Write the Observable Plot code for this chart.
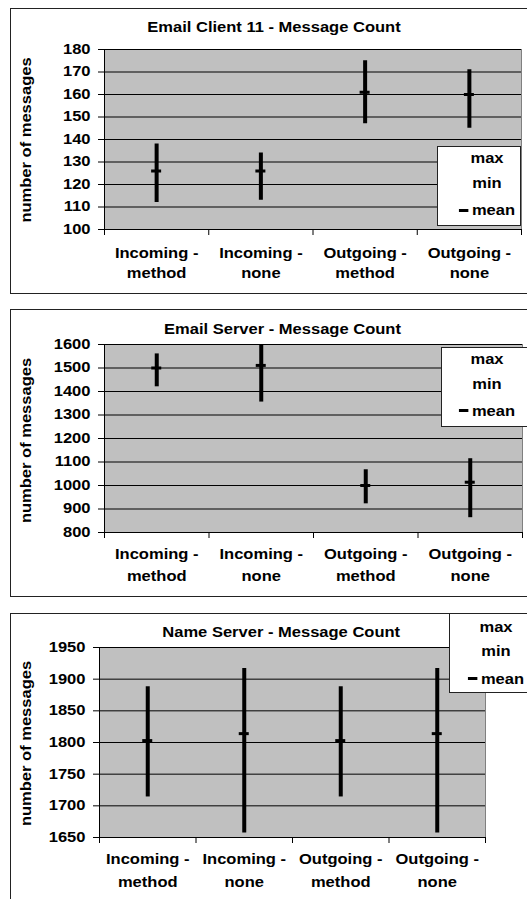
<!DOCTYPE html>
<html><head><meta charset="utf-8">
<script src="https://cdn.jsdelivr.net/npm/d3@7"></script>
<script src="https://cdn.jsdelivr.net/npm/@observablehq/plot@0.6"></script>
<style>
html,body{margin:0;padding:0;background:#fff;}
body{width:527px;height:899px;position:relative;overflow:hidden;font-family:"Liberation Sans",Arial,sans-serif;}
.panel{position:absolute;left:0;width:527px;}
.panel svg{position:absolute;left:0;top:0;}
.frame{position:absolute;left:10px;width:600px;border:1.5px solid #222;box-sizing:border-box;pointer-events:none;}
.legend{position:absolute;background:#fff;border:1px solid #222;box-sizing:border-box;}
.lg{position:absolute;font-weight:bold;font-size:14px;line-height:14px;white-space:nowrap;color:#000;transform:translate(-50%,-50%) scaleX(1.18);}
.dash{display:inline-block;width:8px;height:3px;background:#000;vertical-align:middle;margin-right:3px;position:relative;top:-1px;}
</style></head><body>
<script>
// ---- data ----
const categories = ["Incoming - method", "Incoming - none", "Outgoing - method", "Outgoing - none"];

const clientTitle = "Email Client 11 - Message Count";
const clientMax  = [138, 134, 175, 171];
const clientMin  = [112, 113, 147, 145];
const clientMean = [126, 126, 161, 160];
const clientTicks = [100, 110, 120, 130, 140, 150, 160, 170, 180];

const serverTitle = "Email Server - Message Count";
const serverMax  = [1560, 1600, 1067, 1114];
const serverMin  = [1420, 1355, 922, 863];
const serverMean = [1500, 1511, 1000, 1014];
const serverTicks = [800, 900, 1000, 1100, 1200, 1300, 1400, 1500, 1600];

const nameTitle = "Name Server - Message Count";
const nameMax  = [1888, 1917, 1888, 1917];
const nameMin  = [1714, 1657, 1714, 1657];
const nameMean = [1803, 1814, 1803, 1814];
const nameTicks = [1650, 1700, 1750, 1800, 1850, 1900, 1950];

const yLabel = "number of messages";
const legendLabels = ["max", "min", "mean"];

const K = 1.18; // horizontal text stretch

const panels = [
  {title: clientTitle, max: clientMax, min: clientMin, mean: clientMean, ticks: clientTicks,
   top: 0, h: 300, ml: 104, mr: 6, mt: 49, mb: 71, l1dy: 28, l2dy: 48, tdx: -39, tdy: -27.3, ydx: -77.5, ydy: 0.5,
   frame: {top: 8, h: 286}, legend: {left: 437, top: 146, w: 84, h: 80, cx: 486.5, rows: [159, 184, 211]}},
  {title: serverTitle, max: serverMax, min: serverMin, mean: serverMean, ticks: serverTicks,
   top: 300, h: 300, ml: 104, mr: 5, mt: 44, mb: 68, l1dy: 26.3, l2dy: 48, tdx: -31, tdy: -20, ydx: -77.5, ydy: 2,
   frame: {top: 309, h: 288}, legend: {left: 441, top: 347, w: 100, h: 80, cx: 487, rows: [360, 385, 411.5]}},
  {title: nameTitle, max: nameMax, min: nameMin, mean: nameMean, ticks: nameTicks,
   top: 600, h: 299, ml: 99, mr: 42, mt: 47, mb: 62, l1dy: 26.3, l2dy: 49, tdx: -11.3, tdy: -20, ydx: -72.5, ydy: 1,
   frame: {top: 613, h: 400}, legend: {left: 449, top: 613, w: 100, h: 80, cx: 496, rows: [628, 652, 679.5]}}
];

function stretchText(svg) {
  svg.querySelectorAll("text").forEach(t => {
    const L = t.getComputedTextLength();
    if (L > 0) {
      t.setAttribute("textLength", (L * K).toFixed(2));
      t.setAttribute("lengthAdjust", "spacingAndGlyphs");
    }
  });
}

for (const p of panels) {
  const rows = categories.map((c, i) => {
    const parts = c.split(" - ");
    return {pos: i + 0.5, max: p.max[i], min: p.min[i], mean: p.mean[i], l1: parts[0] + " -", l2: parts[1]};
  });
  const lo = p.ticks[0], hi = p.ticks[p.ticks.length - 1];
  const svg = Plot.plot({
    width: 527, height: p.h,
    marginLeft: p.ml, marginRight: p.mr, marginTop: p.mt, marginBottom: p.mb,
    style: {fontFamily: '"Liberation Sans", Arial, sans-serif', fontWeight: "bold", fontSize: "14px", color: "black", background: "transparent", overflow: "visible"},
    x: {domain: [0, categories.length]},
    y: {domain: [lo, hi]},
    marks: [
      Plot.frame({fill: "#c0c0c0", stroke: "#808080"}),
      Plot.gridY(p.ticks.slice(1), {stroke: "black", strokeOpacity: 1}),
      Plot.ruleX([0], {stroke: "black"}),
      Plot.ruleY([lo], {stroke: "black"}),
      Plot.axisY(p.ticks, {tickSize: 6, tickPadding: 8, stroke: "black", label: null, fontSize: 14, tickFormat: d => String(d)}),
      Plot.axisX(d3.range(categories.length + 1), {tickSize: 6, tickFormat: () => "", stroke: "black", label: null}),
      Plot.text(rows, {x: "pos", text: "l1", frameAnchor: "bottom", dy: p.l1dy, fontSize: 14}),
      Plot.text(rows, {x: "pos", text: "l2", frameAnchor: "bottom", dy: p.l2dy, fontSize: 14}),
      Plot.ruleX(rows, {x: "pos", y1: "min", y2: "max", strokeWidth: 4, stroke: "black"}),
      Plot.ruleY(rows, {y: "mean", x1: "pos", x2: "pos", insetLeft: -5, insetRight: -5, strokeWidth: 3, stroke: "black"}),
      Plot.text([p.title], {frameAnchor: "top", dx: p.tdx, dy: p.tdy, text: d => d, fontSize: 14}),
      Plot.text([yLabel], {frameAnchor: "left", textAnchor: "middle", rotate: -90, dx: p.ydx, dy: p.ydy, text: d => d, fontSize: 14})
    ]
  });
  const div = document.createElement("div");
  div.className = "panel";
  div.style.top = p.top + "px";
  div.style.height = p.h + "px";
  div.appendChild(svg);
  document.body.appendChild(div);
  stretchText(svg);

  const fr = document.createElement("div");
  fr.className = "frame";
  fr.style.top = p.frame.top + "px";
  fr.style.height = p.frame.h + "px";
  document.body.appendChild(fr);

  const lg = document.createElement("div");
  lg.className = "legend";
  Object.assign(lg.style, {left: p.legend.left + "px", top: p.legend.top + "px", width: p.legend.w + "px", height: p.legend.h + "px"});
  document.body.appendChild(lg);
  legendLabels.forEach((lab, j) => {
    const t = document.createElement("div");
    t.className = "lg";
    t.style.left = p.legend.cx + "px";
    t.style.top = (p.legend.rows[j] - 1) + "px";
    if (lab === "mean") {
      const d = document.createElement("span");
      d.className = "dash";
      t.appendChild(d);
    }
    t.appendChild(document.createTextNode(lab));
    document.body.appendChild(t);
  });
}
</script>
</body></html>
